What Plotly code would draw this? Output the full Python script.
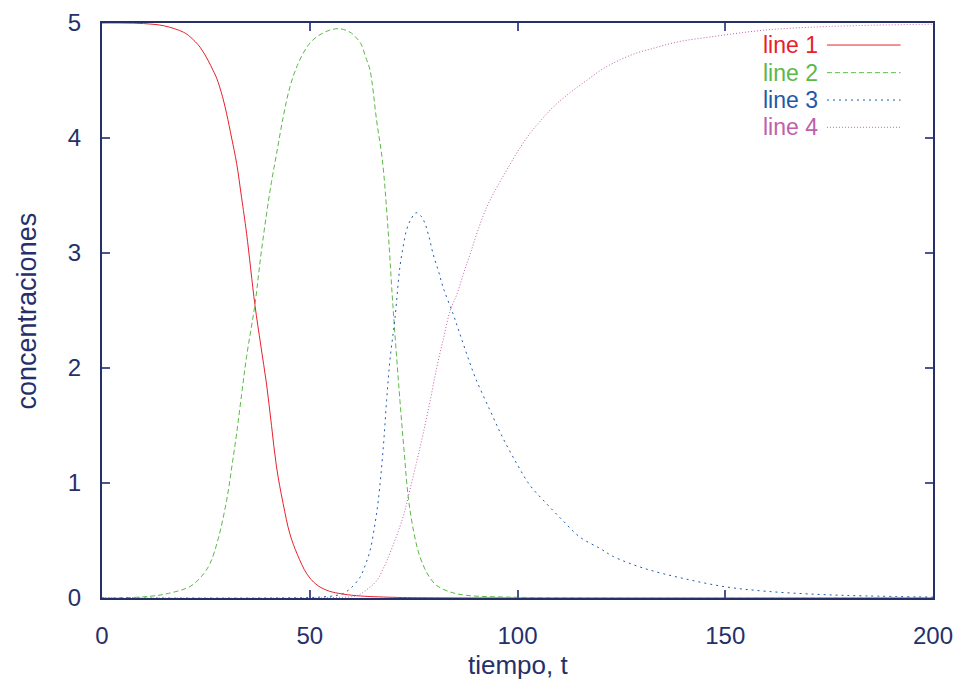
import plotly.graph_objects as go

# ---- data ----
t1 = [0, 5, 10, 15, 19.6, 21.2, 23.6, 25.6, 26.7, 27.6, 29.0, 30.0, 31.2, 32.4, 33.6, 34.8, 36.8, 38.2, 39.6, 40.8, 42.0, 43.6, 45.2, 47.0, 49.3, 51.5, 54.1, 57.0, 61.3, 70, 80, 100, 150, 200]
c1 = [5.0, 5.0, 4.995, 4.975, 4.92, 4.88, 4.79, 4.67, 4.59, 4.52, 4.36, 4.21, 4.0, 3.78, 3.48, 3.17, 2.55, 2.2, 1.86, 1.5, 1.14, 0.82, 0.56, 0.38, 0.21, 0.12, 0.067, 0.04, 0.02, 0.006, 0.002, 0.0, 0.0, 0.0]

t2 = [0, 5, 11.6, 16, 21.2, 24.0, 26.0, 28.0, 30.0, 31.2, 32.4, 33.6, 34.8, 36.8, 38.2, 39.6, 40.8, 42.0, 43.6, 45.2, 47.0, 49.3, 51.0, 53.0, 55.0, 57.3, 59.7, 61.0, 62.3, 63.5, 64.5, 66.1, 67.5, 68.7, 70.0, 71.7, 72.7, 73.7, 75.0, 76.5, 78.5, 80.5, 84.0, 87.8, 97.4, 120, 200]
c2 = [0.0, 0.002, 0.015, 0.04, 0.1, 0.19, 0.30, 0.52, 0.85, 1.13, 1.43, 1.77, 2.10, 2.55, 2.97, 3.34, 3.62, 3.86, 4.18, 4.44, 4.63, 4.79, 4.86, 4.91, 4.94, 4.95, 4.92, 4.88, 4.82, 4.70, 4.59, 4.15, 3.80, 3.28, 2.55, 1.72, 1.28, 0.88, 0.58, 0.36, 0.20, 0.11, 0.05, 0.023, 0.008, 0.0, 0.0]

t3 = [0, 40, 50, 53.3, 56.0, 58.1, 60.0, 62.1, 63.3, 64.5, 65.5, 66.5, 67.7, 68.5, 69.3, 70.5, 71.7, 72.5, 73.3, 74.3, 75.6, 76.8, 77.7, 78.7, 79.7, 81.0, 82.1, 84.5, 86.0, 87.8, 89.8, 93.4, 96.5, 99.8, 103.0, 107.0, 111.0, 115.0, 119.9, 123.1, 130.3, 139.9, 150.3, 160.0, 172.0, 184.0, 200.0]
c3 = [0.0, 0.0, 0.004, 0.01, 0.02, 0.04, 0.09, 0.18, 0.28, 0.41, 0.6, 0.85, 1.31, 1.72, 2.07, 2.43, 2.88, 3.06, 3.20, 3.29, 3.35, 3.32, 3.26, 3.14, 2.99, 2.84, 2.70, 2.47, 2.31, 2.12, 1.92, 1.63, 1.39, 1.17, 0.98, 0.82, 0.67, 0.53, 0.43, 0.36, 0.26, 0.17, 0.096, 0.058, 0.032, 0.018, 0.008]

t4 = [0, 50, 56, 61.3, 64.0, 66.1, 68.0, 69.3, 71.7, 72.9, 74.1, 75.7, 77.3, 79.0, 80.6, 82.2, 83.8, 85.4, 87.0, 88.6, 90.5, 92.6, 95.0, 97.4, 100.0, 103.0, 105.8, 108.6, 112.5, 116.6, 120.5, 124.7, 128.7, 132.7, 136.7, 140.7, 144.7, 148.7, 160, 175, 200]
c4 = [0.0, 0.0, 0.005, 0.02, 0.08, 0.15, 0.28, 0.39, 0.62, 0.76, 0.94, 1.18, 1.43, 1.72, 2.01, 2.26, 2.50, 2.64, 2.82, 2.99, 3.20, 3.40, 3.57, 3.72, 3.88, 4.04, 4.16, 4.27, 4.39, 4.50, 4.60, 4.68, 4.74, 4.78, 4.82, 4.85, 4.87, 4.89, 4.94, 4.97, 4.99]

names = ["line 1", "line 2", "line 3", "line 4"]
colors = ["#e8202a", "#5cb848", "#1f5aa8", "#c060a8"]
dashes = ["solid", "5px,3px", "2px,4px", "1px,2px"]
xs = [t1, t2, t3, t4]
ys = [c1, c2, c3, c4]

x_ticks = [0, 50, 100, 150, 200]
y_ticks = [0, 1, 2, 3, 4, 5]

navy = "#25306b"
font = "Liberation Sans"

fig = go.Figure()
for x, y, n, col, d in zip(xs, ys, names, colors, dashes):
    fig.add_trace(go.Scatter(x=x, y=y, mode="lines", name=n,
                             line=dict(color=col, width=1, dash=d, shape="spline", smoothing=1.0),
                             showlegend=False))

# custom legend (text on the left, sample on the right, gnuplot style)
leg_y = [0.9617, 0.9136, 0.866, 0.8186]
for n, col, d, yy in zip(names, colors, dashes, leg_y):
    fig.add_annotation(x=0.864, y=yy, xref="paper", yref="paper", text=n,
                       showarrow=False, xanchor="right", yanchor="middle",
                       font=dict(family=font, size=23, color=col))
    fig.add_shape(type="line", xref="paper", yref="paper", x0=0.8724, x1=0.961, y0=yy, y1=yy,
                  line=dict(color=col, width=1, dash=d))

# axis titles
fig.add_annotation(x=0.5, y=-0.1165, xref="paper", yref="paper", text="tiempo, t",
                   showarrow=False, xanchor="center", yanchor="middle",
                   font=dict(family=font, size=26, color=navy))
fig.add_annotation(x=-0.0903, y=0.5, xref="paper", yref="paper", text="concentraciones",
                   showarrow=False, xanchor="center", yanchor="middle", textangle=-90,
                   font=dict(family=font, size=27, color=navy))

axis_common = dict(showline=True, linecolor=navy, linewidth=2, mirror="allticks",
                   ticks="inside", ticklen=8, tickwidth=2, tickcolor="#4a5590",
                   showgrid=False, zeroline=False, automargin=False,
                   tickfont=dict(family=font, size=24, color=navy))

fig.update_xaxes(range=[0, 200], tickvals=x_ticks, ticktext=[str(v) for v in x_ticks],
                 ticklabelstandoff=15, **axis_common)
fig.update_yaxes(range=[0, 5], tickvals=y_ticks, ticktext=[str(v) for v in y_ticks],
                 ticklabelstandoff=14, **axis_common)

fig.update_layout(width=961, height=679, margin=dict(l=102, r=28, t=23, b=81),
                  plot_bgcolor="white", paper_bgcolor="white")

fig.write_html("out.html")
